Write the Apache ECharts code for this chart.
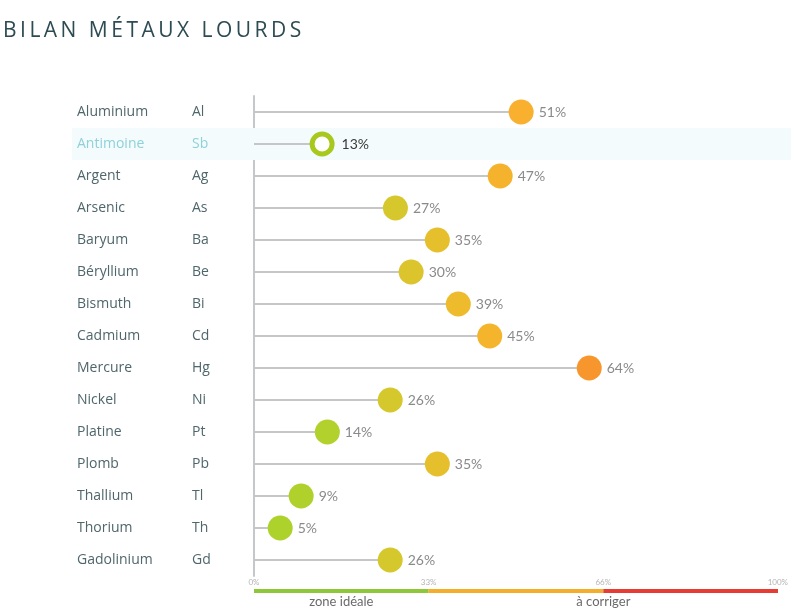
<!DOCTYPE html>
<html>
<head>
<meta charset="utf-8">
<script src="https://cdn.jsdelivr.net/npm/echarts@6/dist/echarts.min.js"></script>
<style>
html,body{margin:0;padding:0;background:#fff;}
#chart{width:791px;height:615px;}
</style>
</head>
<body>
<div id="chart"></div>
<script>
var titleText = 'BILAN MÉTAUX LOURDS';
var names = ['Aluminium','Antimoine','Argent','Arsenic','Baryum','Béryllium','Bismuth','Cadmium','Mercure','Nickel','Platine','Plomb','Thallium','Thorium','Gadolinium'];
var symbols = ['Al','Sb','Ag','As','Ba','Be','Bi','Cd','Hg','Ni','Pt','Pb','Tl','Th','Gd'];
var values = [51,13,47,27,35,30,39,45,64,26,14,35,9,5,26];
var highlighted = 'Antimoine';
var tickValues = [0, 100/3, 200/3, 100];
var tickLabels = ['0%','33%','66%','100%'];
var zoneEdges = [0, 100/3, 200/3, 100];
var zoneLabelPos = [100/6, 200/3];
var zoneLabels = ['zone idéale','à corriger'];

// colour ramp by value (style)
var ramp = [[0,[0xac,0xd2,0x2c]],[14,[0xb2,0xd1,0x2c]],[26,[0xd4,0xc8,0x2c]],[30,[0xdc,0xc4,0x2c]],[35,[0xe6,0xbf,0x2c]],[39,[0xee,0xbb,0x2c]],[45,[0xf4,0xb4,0x2c]],[51,[0xf8,0xb0,0x2e]],[64,[0xf8,0x96,0x2e]],[100,[0xf0,0x60,0x30]]];
function colorFor(v){
  for (var i=0;i<ramp.length-1;i++){
    var a=ramp[i], b=ramp[i+1];
    if (v>=a[0] && v<=b[0]){
      var t=(v-a[0])/(b[0]-a[0]);
      var c=a[1].map(function(x,k){return Math.round(x+(b[1][k]-x)*t);});
      return 'rgb('+c.join(',')+')';
    }
  }
  return 'rgb('+ramp[ramp.length-1][1].join(',')+')';
}

var chart = echarts.init(document.getElementById('chart'));
var gridLeft = 254, gridRightPx = 778, W = 791;
var xMax = 100 * (W - gridLeft) / (gridRightPx - gridLeft);
var hlIndex = names.indexOf(highlighted);

var spacedTitle = titleText.split('').join('\u2009');

var option = {
  animation: false,
  backgroundColor: '#fff',
  title: {
    text: spacedTitle,
    left: -2, top: 16,
    textStyle: {fontFamily: 'Open Sans', fontWeight: 'normal', fontSize: 21, color: '#2d4b53'}
  },
  grid: [
    {left: gridLeft, right: 0, top: 96, bottom: 39},
    {left: gridLeft, right: 0, top: 589, height: 4}
  ],
  xAxis: [
    {
      gridIndex: 0, type: 'value', min: 0, max: xMax,
      axisLine: {show: false}, axisTick: {show: false}, splitLine: {show: false},
      axisLabel: {
        customValues: tickValues, margin: 2,
        fontFamily: 'Lato', fontSize: 8, color: '#b4b4b4',
        formatter: function(v){ var i = tickValues.findIndex(function(t){return Math.abs(t-v)<1e-6;}); return i>=0 ? tickLabels[i] : ''; }
      }
    },
    {
      gridIndex: 1, type: 'value', min: 0, max: xMax,
      axisLine: {show: false}, axisTick: {show: false}, splitLine: {show: false},
      axisLabel: {
        customValues: zoneLabelPos, margin: 2,
        fontFamily: 'Lato', fontSize: 13, color: '#6a6a6a',
        formatter: function(v){ var i = zoneLabelPos.findIndex(function(t){return Math.abs(t-v)<1e-6;}); return i>=0 ? zoneLabels[i] : ''; }
      }
    }
  ],
  yAxis: [
    {
      gridIndex: 0, type: 'category', data: names, inverse: true,
      axisLine: {show: true, lineStyle: {color: '#c4c8cc', width: 2}},
      axisTick: {show: false},
      axisLabel: {
        align: 'left', margin: 182,
        formatter: function(v, i){
          var idx = names.indexOf(v);
          if (idx === hlIndex) return '{hn|' + v + '}{hs|' + symbols[idx] + '}';
          return '{n|' + v + '}{s|' + symbols[idx] + '}';
        },
        rich: {
          n: {fontFamily: 'Open Sans', fontSize: 14, color: '#4f666b', width: 115, padding: [1,0,0,5]},
          s: {fontFamily: 'Open Sans', fontSize: 14, color: '#4f666b', width: 62, padding: [1,0,0,0]},
          hn: {fontFamily: 'Open Sans', fontSize: 14, color: '#8fd1d9', width: 115, padding: [0,0,0,5], height: 32, lineHeight: 32, backgroundColor: '#f3fbfd'},
          hs: {fontFamily: 'Open Sans', fontSize: 14, color: '#8fd1d9', width: 62, height: 32, lineHeight: 32, backgroundColor: '#f3fbfd'}
        }
      }
    },
    {
      gridIndex: 1, type: 'category', data: ['zone'], show: false
    },
    {
      gridIndex: 0, type: 'category', data: names, inverse: true, show: false
    }
  ],
  series: [
    {
      type: 'bar', xAxisIndex: 0, yAxisIndex: 2, barWidth: '100%', z: 0, silent: true,
      itemStyle: {color: '#f3fbfd'},
      data: names.map(function(n, i){ return i === hlIndex ? xMax : '-'; })
    },
    {
      type: 'bar', xAxisIndex: 0, yAxisIndex: 0, barWidth: 2, z: 1,
      itemStyle: {color: '#c6c6c6'},
      data: values
    },
    {
      type: 'scatter', xAxisIndex: 0, yAxisIndex: 0, z: 3,
      itemStyle: {opacity: 1},
      data: values.map(function(v, i){
        var hl = i === hlIndex;
        return {
          value: [v, i],
          symbolSize: hl ? 20 : 25,
          itemStyle: hl ? {color: '#ffffff', borderColor: '#a9c81d', borderWidth: 5, opacity: 1} : {color: colorFor(v), opacity: 1},
          label: {color: hl ? '#3a3a3a' : '#8a8a8a', distance: hl ? 7 : 5}
        };
      }),
      label: {
        show: true, position: 'right',
        fontFamily: 'Lato', fontSize: 14,
        formatter: function(p){ return p.value[0] + '%'; }
      }
    },
    {
      type: 'bar', xAxisIndex: 1, yAxisIndex: 1, stack: 'zone', barWidth: 4,
      itemStyle: {color: '#8ec83a'}, data: [zoneEdges[1]-zoneEdges[0]]
    },
    {
      type: 'bar', xAxisIndex: 1, yAxisIndex: 1, stack: 'zone', barWidth: 4,
      itemStyle: {color: '#f5ae2c'}, data: [zoneEdges[2]-zoneEdges[1]]
    },
    {
      type: 'bar', xAxisIndex: 1, yAxisIndex: 1, stack: 'zone', barWidth: 4,
      itemStyle: {color: '#e63c34'}, data: [zoneEdges[3]-zoneEdges[2]]
    }
  ]
};
chart.setOption(option);
</script>
</body>
</html>
